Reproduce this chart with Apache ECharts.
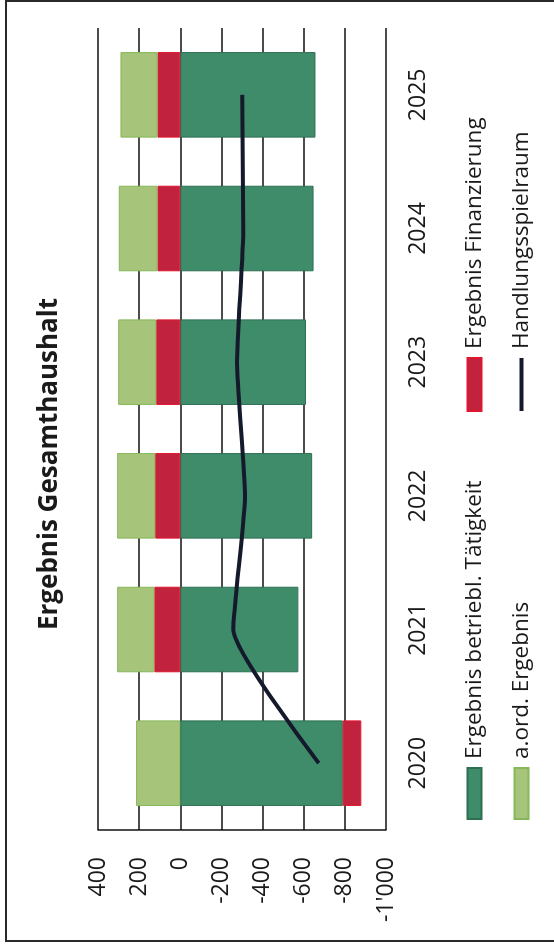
<!DOCTYPE html>
<html>
<head>
<meta charset="utf-8">
<script src="https://cdn.jsdelivr.net/npm/echarts@6/dist/echarts.min.js"></script>
<style>
  html, body { margin: 0; padding: 0; background: #fff; }
  #wrap {
    position: absolute; left: 0; top: 0;
    width: 950px; height: 554px;
    transform-origin: 0 0;
    transform: rotate(-90deg) translate(-950px, 0);
  }
  #chart { width: 950px; height: 554px; }
</style>
</head>
<body>
<div id="wrap"><div id="chart"></div></div>
<script>
// Werte (in Tausend)
var jahre = ['2020', '2021', '2022', '2023', '2024', '2025'];
var betrieb = [-790, -574, -641, -611, -648, -657];
var finanzierung = [-90, 126, 122, 117, 111, 111];
var ausserord = [215, 181, 185, 185, 188, 180];
var spielraum = [-673, -258, -315, -276, -306, -301];

var fontFam = '"Open Sans", "Noto Sans", sans-serif';
var linienIcon = 'path://M0,0 L100,0 L100,8 L0,8 Z';

function fmt(v) {
    // Tausendertrennzeichen wie im Original: 1'000
    var s = String(Math.abs(v)).replace(/\B(?=(\d{3})+(?!\d))/g, "'");
    return (v < 0 ? '-' : '') + s;
}

var chart = echarts.init(document.getElementById('chart'), null, { width: 950, height: 554 });

var option = {
    animation: false,
    backgroundColor: '#fff',
    textStyle: { fontFamily: fontFam },
    title: {
        text: 'Ergebnis Gesamthaushalt',
        left: 481,
        textAlign: 'center',
        top: 32,
        textStyle: { fontFamily: fontFam, fontSize: 26, fontWeight: 'bold', color: '#1a1a1a' }
    },
    graphic: [{
        type: 'rect',
        shape: { x: 9, y: 6, width: 940, height: 620 },
        style: { fill: 'none', stroke: '#2a2a2a', lineWidth: 2 },
        silent: true
    }],
    legend: [{
        orient: 'vertical',
        left: 130,
        top: 463,
        padding: 0,
        itemWidth: 51,
        itemHeight: 14,
        itemGap: 24,
        selectedMode: false,
        data: [
            { name: 'Ergebnis betriebl. Tätigkeit', icon: 'rect' },
            { name: 'a.ord. Ergebnis', icon: 'rect' }
        ],
        textStyle: { fontFamily: fontFam, fontSize: 22.5, color: '#1a1a1a', padding: [0, 0, 0, 4] }
    }, {
        orient: 'vertical',
        left: 538,
        top: 463,
        padding: 0,
        itemWidth: 53,
        itemHeight: 14,
        itemGap: 24,
        selectedMode: false,
        data: [
            { name: 'Ergebnis Finanzierung', icon: 'rect' },
            { name: 'Handlungsspielraum', icon: linienIcon }
        ],
        textStyle: { fontFamily: fontFam, fontSize: 22.5, color: '#1a1a1a', padding: [0, 0, 0, 4] }
    }],
    grid: { left: 120, right: 28, top: 98, bottom: 168, containLabel: false },
    xAxis: {
        type: 'category',
        data: jahre,
        axisLine: { show: false },
        axisTick: { show: false },
        axisLabel: { fontFamily: fontFam, fontSize: 23, color: '#1a1a1a', margin: 21 }
    },
    yAxis: {
        type: 'value',
        min: -1000,
        max: 400,
        interval: 200,
        axisLine: { show: true, lineStyle: { color: '#111', width: 1.5 } },
        axisTick: { show: false },
        splitLine: { show: true, lineStyle: { color: '#111', width: 1.5 } },
        axisLabel: { fontFamily: fontFam, fontSize: 23, color: '#1a1a1a', margin: 27, formatter: fmt }
    },
    series: [{
        name: 'Ergebnis betriebl. Tätigkeit',
        type: 'bar',
        stack: 'gesamt',
        barCategoryGap: '36%',
        data: betrieb,
        itemStyle: { color: '#3f8c6b', borderColor: '#2e6f52', borderWidth: 1 }
    }, {
        name: 'Ergebnis Finanzierung',
        type: 'bar',
        stack: 'gesamt',
        data: finanzierung,
        itemStyle: { color: '#c1223e', borderColor: '#e0162e', borderWidth: 1 }
    }, {
        name: 'a.ord. Ergebnis',
        type: 'bar',
        stack: 'gesamt',
        data: ausserord,
        itemStyle: { color: '#a6c47a', borderColor: '#86b85a', borderWidth: 1 }
    }, {
        name: 'Handlungsspielraum',
        type: 'line',
        data: spielraum,
        smooth: 0.15,
        symbol: 'none',
        z: 5,
        lineStyle: { color: '#141a2c', width: 4 },
        itemStyle: { color: '#141a2c', borderWidth: 0 }
    }]
};

chart.setOption(option);
</script>
</body>
</html>
